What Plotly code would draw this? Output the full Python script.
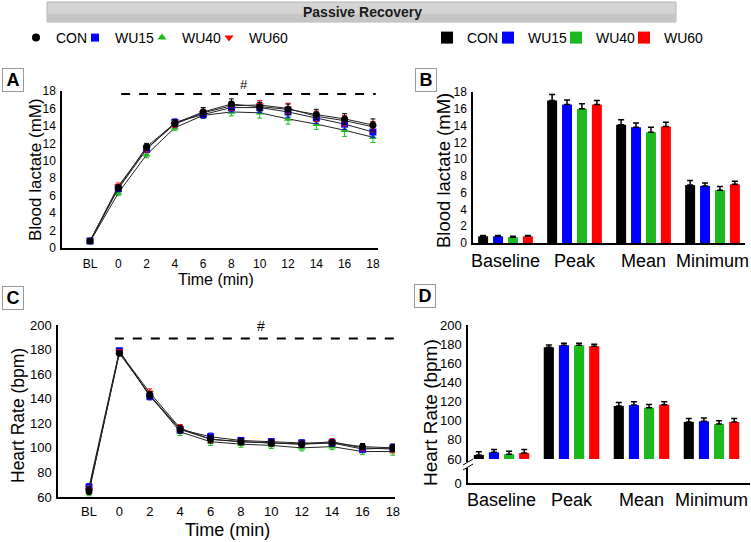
import plotly.graph_objects as go

# ---------------- data ----------------
time_labels = ["BL", "0", "2", "4", "6", "8", "10", "12", "14", "16", "18"]
groups = ["CON", "WU15", "WU40", "WU60"]
bar_categories = ["Baseline", "Peak", "Mean", "Minimum"]

lac_CON = [0.8, 6.9, 11.6, 14.3, 15.6, 16.5, 16.2, 15.9, 15.3, 14.8, 14.1]
lac_WU15 = [0.8, 6.8, 11.3, 14.4, 15.3, 16.1, 16.1, 15.6, 14.9, 14.2, 13.3]
lac_WU40 = [0.7, 6.3, 10.7, 13.8, 15.2, 15.6, 15.5, 14.8, 14.2, 13.5, 12.7]
lac_WU60 = [0.8, 7.1, 11.4, 14.2, 15.5, 16.3, 16.4, 16.0, 15.1, 14.6, 13.9]
lac_err_CON = [0.1, 0.35, 0.4, 0.4, 0.5, 0.6, 0.5, 0.6, 0.6, 0.6, 0.7]
lac_err_WU15 = [0.1, 0.3, 0.35, 0.4, 0.4, 0.5, 0.6, 0.6, 0.6, 0.6, 0.6]
lac_err_WU40 = [0.1, 0.3, 0.35, 0.35, 0.35, 0.45, 0.6, 0.6, 0.6, 0.7, 0.6]
lac_err_WU60 = [0.1, 0.35, 0.4, 0.4, 0.4, 0.5, 0.5, 0.6, 0.6, 0.6, 0.6]

hr_CON = [65, 177, 143, 115, 107, 105, 104, 103, 104, 101, 100]
hr_WU15 = [68, 179, 142, 115, 109, 106, 105, 104, 104, 99, 100]
hr_WU40 = [64, 178, 143, 113, 105, 103, 102, 100, 101, 97, 97]
hr_WU60 = [66, 178, 145, 116, 107, 105, 104, 103, 105, 100, 99]
hr_err = [3, 2, 3, 3, 3, 2.5, 2.5, 2.5, 2.5, 2.5, 3]

lacbar_CON = [0.8, 17.0, 14.1, 6.9]
lacbar_WU15 = [0.8, 16.5, 13.8, 6.8]
lacbar_WU40 = [0.7, 16.0, 13.2, 6.3]
lacbar_WU60 = [0.8, 16.5, 13.9, 7.0]
lacbar_err_CON = [0.1, 0.7, 0.6, 0.55]
lacbar_err_WU15 = [0.1, 0.55, 0.5, 0.35]
lacbar_err_WU40 = [0.1, 0.6, 0.6, 0.45]
lacbar_err_WU60 = [0.1, 0.5, 0.5, 0.35]

hrbar_CON = [64.2, 176.7, 115.4, 98.7]
hrbar_WU15 = [67.0, 178.8, 116.4, 99.4]
hrbar_WU40 = [65.0, 178.8, 113.6, 96.6]
hrbar_WU60 = [66.3, 177.7, 116.8, 98.7]
hrbar_err_CON = [3.4, 2.5, 3.5, 3.5]
hrbar_err_WU15 = [3.0, 2.2, 3.3, 3.5]
hrbar_err_WU40 = [3.0, 2.2, 3.3, 3.3]
hrbar_err_WU60 = [3.5, 2.2, 3.0, 3.5]

lac_tick_vals = [0, 2, 4, 6, 8, 10, 12, 14, 16, 18]
hr_tick_vals = [60, 80, 100, 120, 140, 160, 180, 200]

# ---------------- styles ----------------
W, H = 751, 542
FONT = "Liberation Sans, Arial, sans-serif"
colors = {"CON": "#000000", "WU15": "#0000FF", "WU40": "#1DB81D", "WU60": "#FF0000"}
symbols = {"CON": "circle", "WU15": "square", "WU40": "triangle-up", "WU60": "triangle-down"}
# legend symbol centre positions (px)
line_leg_x = {"CON": 37, "WU15": 96, "WU40": 163, "WU60": 230}
bar_leg_x = {"CON": 448, "WU15": 509, "WU40": 577, "WU60": 645}
LEG_Y = 38


def px(xp):
    return xp / W


def py(yp):
    return 1 - yp / H


lac_series = {"CON": (lac_CON, lac_err_CON), "WU15": (lac_WU15, lac_err_WU15),
              "WU40": (lac_WU40, lac_err_WU40), "WU60": (lac_WU60, lac_err_WU60)}
hr_series = {"CON": hr_CON, "WU15": hr_WU15, "WU40": hr_WU40, "WU60": hr_WU60}
lacbar_series = {"CON": (lacbar_CON, lacbar_err_CON), "WU15": (lacbar_WU15, lacbar_err_WU15),
                 "WU40": (lacbar_WU40, lacbar_err_WU40), "WU60": (lacbar_WU60, lacbar_err_WU60)}
hrbar_series = {"CON": (hrbar_CON, hrbar_err_CON), "WU15": (hrbar_WU15, hrbar_err_WU15),
                "WU40": (hrbar_WU40, hrbar_err_WU40), "WU60": (hrbar_WU60, hrbar_err_WU60)}

legend_ids = {}
legend_layout = {}
k = 1
for kind, xs in (("line", line_leg_x), ("bar", bar_leg_x)):
    for g in groups:
        lid = "legend" if k == 1 else "legend%d" % k
        legend_ids[(kind, g)] = lid
        legend_layout[lid] = dict(orientation="h", x=px(xs[g] - 21), y=py(LEG_Y), xanchor="left",
                                  yanchor="middle", font=dict(size=14), bgcolor="rgba(0,0,0,0)",
                                  itemwidth=30)
        k += 1

fig = go.Figure()

draw_order = ["WU40", "WU15", "WU60", "CON"]
for g in draw_order:
    vals, err = lac_series[g]
    fig.add_trace(go.Scatter(
        x=time_labels, y=vals, name=g, mode="lines+markers", showlegend=False,
        line=dict(color="#222222", width=1),
        marker=dict(color=colors[g], symbol=symbols[g], size=7),
        error_y=dict(type="data", array=err, color=colors[g], thickness=1, width=2.5),
        xaxis="x", yaxis="y"))
# legend keys (marker only) for the line panels
for g in groups:
    fig.add_trace(go.Scatter(
        x=[None], y=[None], name=g, mode="markers",
        marker=dict(color=colors[g], symbol=symbols[g], size=8),
        legend=legend_ids[("line", g)], xaxis="x", yaxis="y"))
for g in draw_order:
    fig.add_trace(go.Scatter(
        x=time_labels, y=hr_series[g], name=g, mode="lines+markers", showlegend=False,
        line=dict(color="#222222", width=1),
        marker=dict(color=colors[g], symbol=symbols[g], size=7),
        error_y=dict(type="data", array=hr_err, color=colors[g], thickness=1, width=2.5),
        xaxis="x3", yaxis="y3"))

for g in groups:
    vals, err = lacbar_series[g]
    fig.add_trace(go.Bar(
        x=bar_categories, y=vals, name=g, marker=dict(color=colors[g], line=dict(width=0)),
        error_y=dict(type="data", symmetric=False, array=err, arrayminus=[0] * len(err),
                     color="#000000", thickness=1.5, width=3),
        legend=legend_ids[("bar", g)], xaxis="x2", yaxis="y2"))
for g in groups:
    vals, err = hrbar_series[g]
    fig.add_trace(go.Bar(
        x=bar_categories, y=[v - 60 for v in vals], base=60, name=g, showlegend=False,
        marker=dict(color=colors[g], line=dict(width=0)),
        error_y=dict(type="data", symmetric=False, array=err, arrayminus=[0] * len(err),
                     color="#000000", thickness=1.5, width=3),
        xaxis="x4", yaxis="y4"))

axis_common = dict(showgrid=False, zeroline=False, showline=True, linecolor="#000000",
                   linewidth=1.5, ticks="", tickcolor="#000000")

# broken-axis: fake '0' position for panel D
d_lo = 60 - (483 - 459) / ((459 - 325) / 140)

fig.update_layout(
    width=W, height=H, margin=dict(l=0, r=0, t=0, b=0, autoexpand=False),
    paper_bgcolor="white", plot_bgcolor="white",
    font=dict(family=FONT, color="#000000"),
    barmode="group", bargap=0.135, bargroupgap=0.33,
    xaxis=dict(axis_common, domain=[px(62), px(378)], range=[-0.99, 10.18], type="category",
               tickfont=dict(size=12), ticklabelstandoff=4, anchor="y"),
    yaxis=dict(axis_common, domain=[py(248), py(91)], range=[0, 18], tickvals=lac_tick_vals,
               tickfont=dict(size=12), ticklabelstandoff=2, anchor="x"),
    xaxis3=dict(axis_common, domain=[px(58), px(395)], range=[-1.02, 10.07], type="category",
                tickfont=dict(size=13), ticklabelstandoff=2, anchor="y3"),
    yaxis3=dict(axis_common, domain=[py(497), py(325)], range=[60, 200], tickvals=hr_tick_vals,
                tickfont=dict(size=13), ticklabelstandoff=2, anchor="x3"),
    xaxis2=dict(axis_common, domain=[px(473), px(745)], range=[-0.471, 3.471], type="category",
                tickfont=dict(size=18), ticklabelstandoff=1, anchor="y2"),
    yaxis2=dict(axis_common, domain=[py(243), py(92)], range=[0, 18], tickvals=lac_tick_vals,
                tickfont=dict(size=12), ticklabelstandoff=2, anchor="x2"),
    xaxis4=dict(axis_common, domain=[px(468), px(750)], range=[-0.479, 3.55], type="category",
                tickfont=dict(size=18), ticklabelstandoff=0, anchor="y4"),
    yaxis4=dict(axis_common, domain=[py(483), py(325)], range=[d_lo, 200],
                tickvals=[d_lo] + hr_tick_vals, ticktext=["0"] + [str(v) for v in hr_tick_vals],
                tickfont=dict(size=13), ticklabelstandoff=2, anchor="x4"),
    **legend_layout,
)

shapes = []
# banner (light top, slightly darker lower band)
shapes.append(dict(type="rect", xref="paper", yref="paper", x0=px(47), x1=px(676), y0=py(22), y1=py(2),
                   fillcolor="#d4d4d4", line=dict(color="#b4b4b4", width=1), layer="below"))
shapes.append(dict(type="rect", xref="paper", yref="paper", x0=px(48), x1=px(675), y0=py(21), y1=py(14),
                   fillcolor="#c6c6c6", line=dict(width=0), layer="below"))
# dashed significance lines
shapes.append(dict(type="line", xref="x", yref="y", x0=1.1, x1=10.1, y0=17.66, y1=17.66,
                   line=dict(color="#000000", width=2, dash="dash")))
shapes.append(dict(type="line", xref="x3", yref="y3", x0=0.85, x1=10.3, y0=189, y1=189,
                   line=dict(color="#000000", width=2, dash="dash")))
# axis break in D
shapes.append(dict(type="rect", xref="paper", yref="paper", x0=px(464), x1=px(472), y0=py(468), y1=py(462),
                   fillcolor="white", line=dict(width=0)))
shapes.append(dict(type="line", xref="paper", yref="paper", x0=px(463), x1=px(473), y0=py(465), y1=py(459),
                   line=dict(color="#000000", width=1)))
shapes.append(dict(type="line", xref="paper", yref="paper", x0=px(463), x1=px(473), y0=py(470), y1=py(464),
                   line=dict(color="#000000", width=1)))
fig.update_layout(shapes=shapes)

C = dict(xanchor="center", yanchor="middle", showarrow=False)
ann = []
ann.append(dict(C, text="<b>Passive Recovery</b>", xref="paper", yref="paper", x=px(362), y=py(12),
                font=dict(size=14, color="#1a1a1a")))
for letter, (cx, cy) in {"A": (13, 80), "B": (426, 80), "C": (13, 298), "D": (425, 296)}.items():
    ann.append(dict(C, text="<b>%s</b>" % letter, xref="paper", yref="paper", x=px(cx), y=py(cy),
                    font=dict(size=18, color="#000000"), bgcolor="white",
                    bordercolor="#9a9a9a", borderwidth=1, width=18, height=20, borderpad=1))
ann.append(dict(C, text="#", xref="x", yref="paper", x=5.45, y=py(84), font=dict(size=13)))
ann.append(dict(C, text="#", xref="x3", yref="paper", x=5.66, y=py(326), font=dict(size=14)))
# axis titles
ann.append(dict(C, text="Blood lactate (mM)", xref="paper", yref="paper", x=px(36), y=py(170),
                textangle=-90, font=dict(size=17)))
ann.append(dict(C, text="Blood lactate (mM)", xref="paper", yref="paper", x=px(443), y=py(171),
                textangle=-90, font=dict(size=18.5)))
ann.append(dict(C, text="Heart Rate (bpm)", xref="paper", yref="paper", x=px(18), y=py(416),
                textangle=-90, font=dict(size=17.5)))
ann.append(dict(C, text="Heart Rate (bpm)", xref="paper", yref="paper", x=px(430), y=py(413),
                textangle=-90, font=dict(size=19)))
ann.append(dict(C, text="Time (min)", xref="paper", yref="paper", x=px(216), y=py(279),
                font=dict(size=16)))
ann.append(dict(C, text="Time (min)", xref="paper", yref="paper", x=px(227), y=py(530),
                font=dict(size=18)))
fig.update_layout(annotations=ann)

fig.write_html("out.html", config={"displayModeBar": False},
               post_script="document.body.style.margin='0px';")
